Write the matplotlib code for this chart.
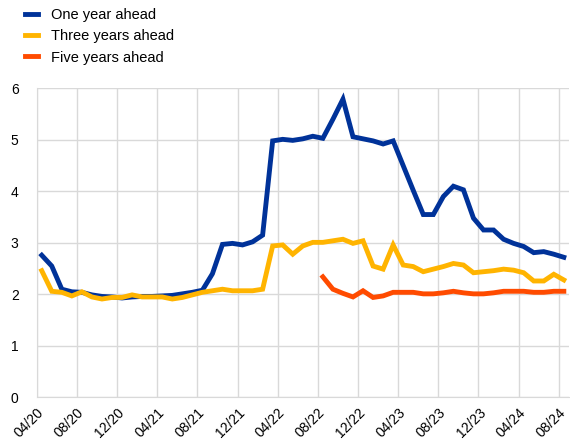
import matplotlib
matplotlib.use("Agg")
from matplotlib import pyplot as plt
import numpy as np

plt.rcParams['font.family'] = ['Liberation Sans', 'DejaVu Sans']

# monthly observations, April 2020 - August 2024
tick_labels = ["04/20", "08/20", "12/20", "04/21", "08/21", "12/21", "04/22",
               "08/22", "12/22", "04/23", "08/23", "12/23", "04/24", "08/24"]

one_year = [2.76, 2.55, 2.10, 2.05, 2.04, 1.99, 1.96, 1.95, 1.93, 1.95,
            1.96, 1.96, 1.97, 1.98, 2.01, 2.04, 2.08, 2.40, 2.97, 2.99,
            2.96, 3.02, 3.15, 4.98, 5.01, 4.99, 5.02, 5.07, 5.03, 5.40,
            5.79, 5.06, 5.02, 4.98, 4.92, 4.98, 4.50, 4.02, 3.55, 3.55,
            3.90, 4.10, 4.03, 3.48, 3.25, 3.25, 3.07, 2.99, 2.93, 2.81,
            2.83, 2.78, 2.72]

three_years = [2.46, 2.06, 2.04, 1.97, 2.05, 1.95, 1.91, 1.94, 1.94, 1.99,
               1.95, 1.95, 1.95, 1.91, 1.94, 1.99, 2.04, 2.07, 2.10, 2.07,
               2.07, 2.07, 2.10, 2.94, 2.96, 2.78, 2.94, 3.01, 3.01, 3.04,
               3.07, 2.99, 3.04, 2.55, 2.49, 2.96, 2.57, 2.54, 2.44, 2.49,
               2.54, 2.60, 2.57, 2.42, 2.44, 2.46, 2.49, 2.47, 2.42, 2.26,
               2.26, 2.39, 2.28]

# five-year series starts in August 2022
five_years = [np.nan] * 28 + [2.34, 2.10, 2.02, 1.95, 2.07, 1.94, 1.97,
                              2.04, 2.04, 2.04, 2.01, 2.01, 2.03, 2.06,
                              2.03, 2.01, 2.01, 2.03, 2.06, 2.06, 2.06,
                              2.04, 2.04, 2.06, 2.06]

blue = "#003299"
yellow = "#ffb400"
orange = "#ff4b00"
grid_col = "#d9d9d9"

fig = plt.figure(figsize=(5.7, 4.44), dpi=100)
ax = fig.add_axes([0.0644, 0.105, 0.9336, 0.696])

x = np.arange(len(one_year)) + 0.5
ax.plot(x, one_year, color=blue, lw=3.5, label="One year ahead", solid_joinstyle="miter")
ax.plot(x, three_years, color=yellow, lw=3.5, label="Three years ahead", solid_joinstyle="miter")
ax.plot(x, five_years, color=orange, lw=3.5, label="Five years ahead", solid_joinstyle="miter")

ax.set_xlim(0, len(one_year))
ax.set_ylim(0, 6)
ax.set_xticks(np.arange(0, len(one_year), 4))
ax.set_xticklabels(tick_labels, rotation=45, ha="right", rotation_mode="anchor")
ax.set_yticks(range(7))

ax.grid(True, color=grid_col, lw=1)
ax.set_axisbelow(True)
for s in ["top", "right"]:
    ax.spines[s].set_visible(False)
for s in ["left", "bottom"]:
    ax.spines[s].set_color(grid_col)
ax.tick_params(length=0, labelsize=10, colors="#000000")
ax.tick_params(axis="y", pad=13)
ax.tick_params(axis="x", pad=6)

fig.legend(loc="upper left", bbox_to_anchor=(0.03, 1.0), frameon=False,
           fontsize=10.5, handlelength=0.9, handletextpad=0.9, labelspacing=0.5,
           borderaxespad=0.15)

fig.savefig("out.png", dpi=100)
